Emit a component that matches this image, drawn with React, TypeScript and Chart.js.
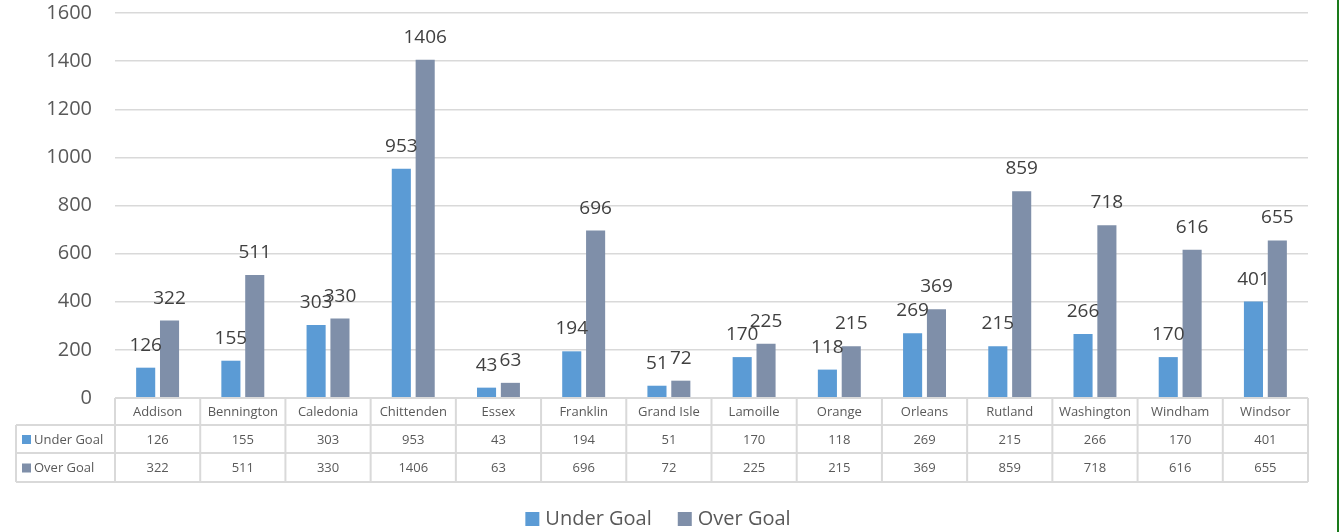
import React, { useEffect, useRef } from "react";
import { Chart, registerables } from "chart.js";

Chart.register(...registerables);

const categories = [
  "Addison", "Bennington", "Caledonia", "Chittenden", "Essex", "Franklin", "Grand Isle",
  "Lamoille", "Orange", "Orleans", "Rutland", "Washington", "Windham", "Windsor",
];
const underGoal = [126, 155, 303, 953, 43, 194, 51, 170, 118, 269, 215, 266, 170, 401];
const overGoal = [322, 511, 330, 1406, 63, 696, 72, 225, 215, 369, 859, 718, 616, 655];
const seriesNames = ["Under Goal", "Over Goal"];
const seriesColors = ["#5B9BD5", "#7F8FA9"];
const yMin = 0;
const yMax = 1600;
const yStep = 200;

const FONT = "'Open Sans', 'DejaVu Sans', sans-serif";
const TEXT = "#595959";
const LINE = "#d9d9d9";

const labelPlugin = {
  id: "barLabels",
  afterDatasetsDraw(chart: any) {
    const ctx = chart.ctx;
    ctx.save();
    ctx.font = `19px ${FONT}`;
    ctx.fillStyle = "#404040";
    ctx.textAlign = "center";
    ctx.textBaseline = "alphabetic";
    chart.data.datasets.forEach((ds: any, di: number) => {
      const meta = chart.getDatasetMeta(di);
      meta.data.forEach((bar: any, i: number) => {
        ctx.fillText(String(ds.data[i]), bar.x, bar.y - 17);
      });
    });
    ctx.restore();
  },
};

const tablePlugin = {
  id: "dataTable",
  afterDraw(chart: any) {
    const ctx = chart.ctx;
    const xs = chart.scales.x;
    const area = chart.chartArea;
    const n = categories.length;
    const edges: number[] = [area.left];
    for (let i = 0; i < n - 1; i++) {
      edges.push((xs.getPixelForValue(i) + xs.getPixelForValue(i + 1)) / 2);
    }
    edges.push(area.right);
    const top = area.bottom;
    const rows = [top, top + 27, top + 55, top + 84];
    const leftX = area.left - 99;

    ctx.save();
    ctx.strokeStyle = LINE;
    ctx.lineWidth = 2;
    ctx.beginPath();
    ctx.moveTo(area.left, rows[0]);
    ctx.lineTo(area.right, rows[0]);
    for (let r = 1; r < rows.length; r++) {
      ctx.moveTo(leftX, rows[r]);
      ctx.lineTo(area.right, rows[r]);
    }
    ctx.moveTo(leftX, rows[1]);
    ctx.lineTo(leftX, rows[3]);
    edges.forEach((ex) => {
      ctx.moveTo(ex, rows[0]);
      ctx.lineTo(ex, rows[3]);
    });
    ctx.stroke();

    ctx.fillStyle = TEXT;
    ctx.font = `13px ${FONT}`;
    ctx.textAlign = "center";
    ctx.textBaseline = "middle";
    categories.forEach((c, i) => {
      const cx = (edges[i] + edges[i + 1]) / 2;
      ctx.fillText(c, cx, (rows[0] + rows[1]) / 2 + 1);
    });
    const seriesData = [underGoal, overGoal];
    seriesData.forEach((d, s) => {
      const cy = (rows[s + 1] + rows[s + 2]) / 2 + 1;
      d.forEach((v, i) => {
        const cx = (edges[i] + edges[i + 1]) / 2;
        ctx.fillStyle = TEXT;
        ctx.textAlign = "center";
        ctx.fillText(String(v), cx, cy);
      });
      ctx.fillStyle = seriesColors[s];
      ctx.fillRect(leftX + 6, cy - 5, 9, 9);
      ctx.fillStyle = TEXT;
      ctx.textAlign = "left";
      ctx.fillText(seriesNames[s], leftX + 18, cy);
    });

    ctx.font = `20px ${FONT}`;
    ctx.textBaseline = "middle";
    const box = 14;
    const gapBoxText = 6;
    const gapItems = 26;
    const widths = seriesNames.map((s) => ctx.measureText(s).width);
    const total = widths.reduce((a, w) => a + box + gapBoxText + w, 0) + gapItems * (seriesNames.length - 1);
    const centerX = 658;
    const ly = 519;
    let lx = centerX - total / 2;
    seriesNames.forEach((s, i) => {
      ctx.fillStyle = seriesColors[i];
      ctx.fillRect(lx, ly - box / 2, box, box);
      lx += box + gapBoxText;
      ctx.fillStyle = TEXT;
      ctx.textAlign = "left";
      ctx.fillText(s, lx, ly);
      lx += widths[i] + gapItems;
    });
    ctx.restore();
  },
};

export default function App() {
  const ref = useRef<HTMLCanvasElement | null>(null);
  useEffect(() => {
    if (!ref.current) return;
    const chart = new Chart(ref.current, {
      type: "bar",
      data: {
        labels: categories,
        datasets: [
          { label: seriesNames[0], data: underGoal, backgroundColor: seriesColors[0] },
          { label: seriesNames[1], data: overGoal, backgroundColor: seriesColors[1] },
        ],
      },
      options: {
        animation: false,
        responsive: true,
        maintainAspectRatio: false,
        devicePixelRatio: 1,
        layout: { padding: { left: 0, top: 13, right: 33, bottom: 134 } },
        datasets: { bar: { categoryPercentage: 0.56, barPercentage: 0.8 } },
        plugins: { legend: { display: false }, tooltip: { enabled: false } },
        scales: {
          x: { display: false },
          y: {
            min: yMin,
            max: yMax,
            border: { display: false },
            grid: { color: LINE, lineWidth: 1.5, drawTicks: false },
            ticks: {
              stepSize: yStep,
              padding: 23,
              color: TEXT,
              font: { family: FONT, size: 20 },
              callback: (v: any) => String(v),
            },
            afterFit(scale: any) {
              scale.width = 115;
              scale.paddingTop = 0;
              scale.paddingBottom = 0;
            },
          },
        },
      } as any,
      plugins: [labelPlugin, tablePlugin],
    });
    return () => chart.destroy();
  }, []);
  return (
    <div style={{ position: "absolute", left: 0, top: 0, width: 1341, height: 532, background: "#fff" }}>
      <canvas ref={ref} />
      <div style={{ position: "absolute", left: 1337, top: 0, width: 2, height: 532, background: "#1a7a1a" }} />
    </div>
  );
}
